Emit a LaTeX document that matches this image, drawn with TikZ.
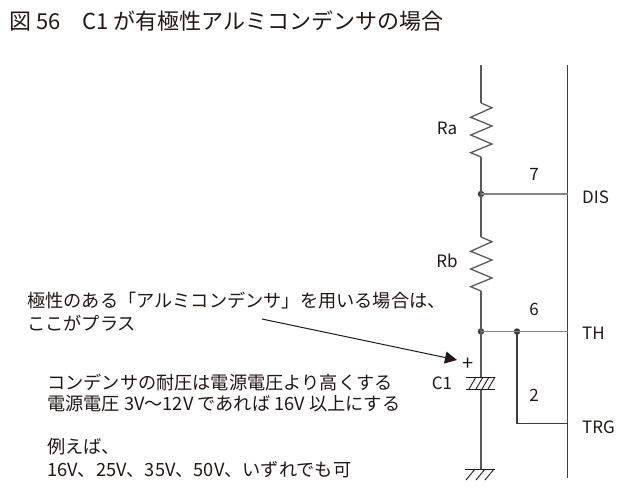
\documentclass[tikz,border=0pt]{standalone}
\usepackage{fontspec}
\setmainfont{Noto Sans CJK JP}[Scale=1]
\usetikzlibrary{arrows.meta}
\definecolor{ink}{HTML}{231815}
\definecolor{wire}{HTML}{5A5A5A}
\definecolor{hwire}{HTML}{858585}
\tikzset{
  txt/.style={anchor=west,inner sep=0pt,text=ink,font=\fontsize{18.2}{18.2}\selectfont},
  lbl/.style={inner sep=0pt,text=ink,font=\fontsize{17}{17}\selectfont},
  dot/.style={circle,fill=ink!85!white,inner sep=0pt,minimum size=6.5pt},
  vwire/.style={draw=wire,line width=1.3pt},
  hw/.style={draw=hwire,line width=1.4pt},
  bwire/.style={draw=ink!85!white,line width=1.1pt},
  hatch/.style={draw=ink,line width=0.9pt}
}
\begin{document}
\begin{tikzpicture}[x=1pt,y=-1pt]
\useasboundingbox[fill=white] (0,0) rectangle (624,499);
\node[anchor=west,inner sep=0pt,text=ink,font=\fontsize{22}{22}\selectfont] (title) at (9,21) {図 56　C1 が有極性アルミコンデンサの場合};
\coordinate (top) at (481,65);
\coordinate (ra1) at (481,103);
\coordinate (ra2) at (481,157);
\coordinate (rb1) at (481,237);
\coordinate (rb2) at (481,291);
\coordinate (c1a) at (481,377);
\coordinate (c1b) at (481,389);
\coordinate (gnd) at (481,469);
\coordinate (chipt) at (567.5,65);
\coordinate (chipb) at (567.5,478);
\coordinate (pdis) at (567.5,194);
\coordinate (pth) at (567.5,331.5);
\coordinate (ptrg) at (567.5,423.5);
\coordinate (bend) at (517,423.5);
\coordinate (astart) at (262,319);
\coordinate (atip) at (457,360);
\node[dot] (j1) at (481,194) {};
\node[dot] (j2) at (481,331.5) {};
\node[dot] (j3) at (517,331.5) {};
\draw[vwire] (top) -- (ra1);
\draw[vwire] (ra2) -- (j1.center) -- (rb1);
\draw[vwire] (rb2) -- (j2.center) -- (c1a);
\draw[vwire] (c1b) -- (gnd);
\draw[bwire] (chipt) -- (chipb);
\draw[hw] (j1.center) -- (pdis);
\draw[hw] (j2.center) -- (pth);
\draw[bwire] (j3.center) -- (bend) -- (ptrg);
\foreach \s in {ra1, rb1}{
  \draw[vwire,line join=miter] (\s) -- ++(11,4.7) -- ++(-21.3,9.6) -- ++(21.3,8.7) -- ++(-21.3,9) -- ++(21.3,9) -- ++(-21.3,8.7) -- ++(10.3,4.3);
}
\draw[hatch] (466,377) -- (495,377);
\draw[hatch] (466,389) -- (495,389);
\foreach \x in {476,483,489,495}{\draw[hatch] (\x,377) -- ++(-7,12);}
\draw[hatch] (465,469) -- (495,469);
\foreach \x in {475,485,494}{\draw[hatch] (\x,469) -- ++(-9,11);}
\draw[draw=ink,line width=1pt,-{Triangle[length=12pt,width=12pt]}] (astart) -- (atip);
\node[lbl] (ra) at (447,128) {Ra};
\node[lbl] (rb) at (447,261) {Rb};
\node[lbl] (c1) at (442,383) {C1};
\node[lbl,font=\fontsize{20}{20}\selectfont] (plus) at (468.5,364) {+};
\node[lbl] (n7) at (534,174) {7};
\node[lbl] (n6) at (534,309) {6};
\node[lbl] (n2) at (534,395) {2};
\node[lbl,anchor=west] (dis) at (582,197) {DIS};
\node[lbl,anchor=west] (th) at (582,333) {TH};
\node[lbl,anchor=west] (trg) at (582,427) {TRG};
\node[txt] (t1) at (27,301) {極性のある「アルミコンデンサ」を用いる場合は、};
\node[txt] (t2) at (27,323) {ここがプラス};
\node[txt] (t3) at (47,382) {コンデンサの耐圧は電源電圧より高くする};
\node[txt] (t4) at (47,404) {電源電圧 3V～12V であれば 16V 以上にする};
\node[txt] (t5) at (47,447) {例えば、};
\node[txt] (t6) at (47,470) {16V、25V、35V、50V、いずれでも可};
\end{tikzpicture}
\end{document}
